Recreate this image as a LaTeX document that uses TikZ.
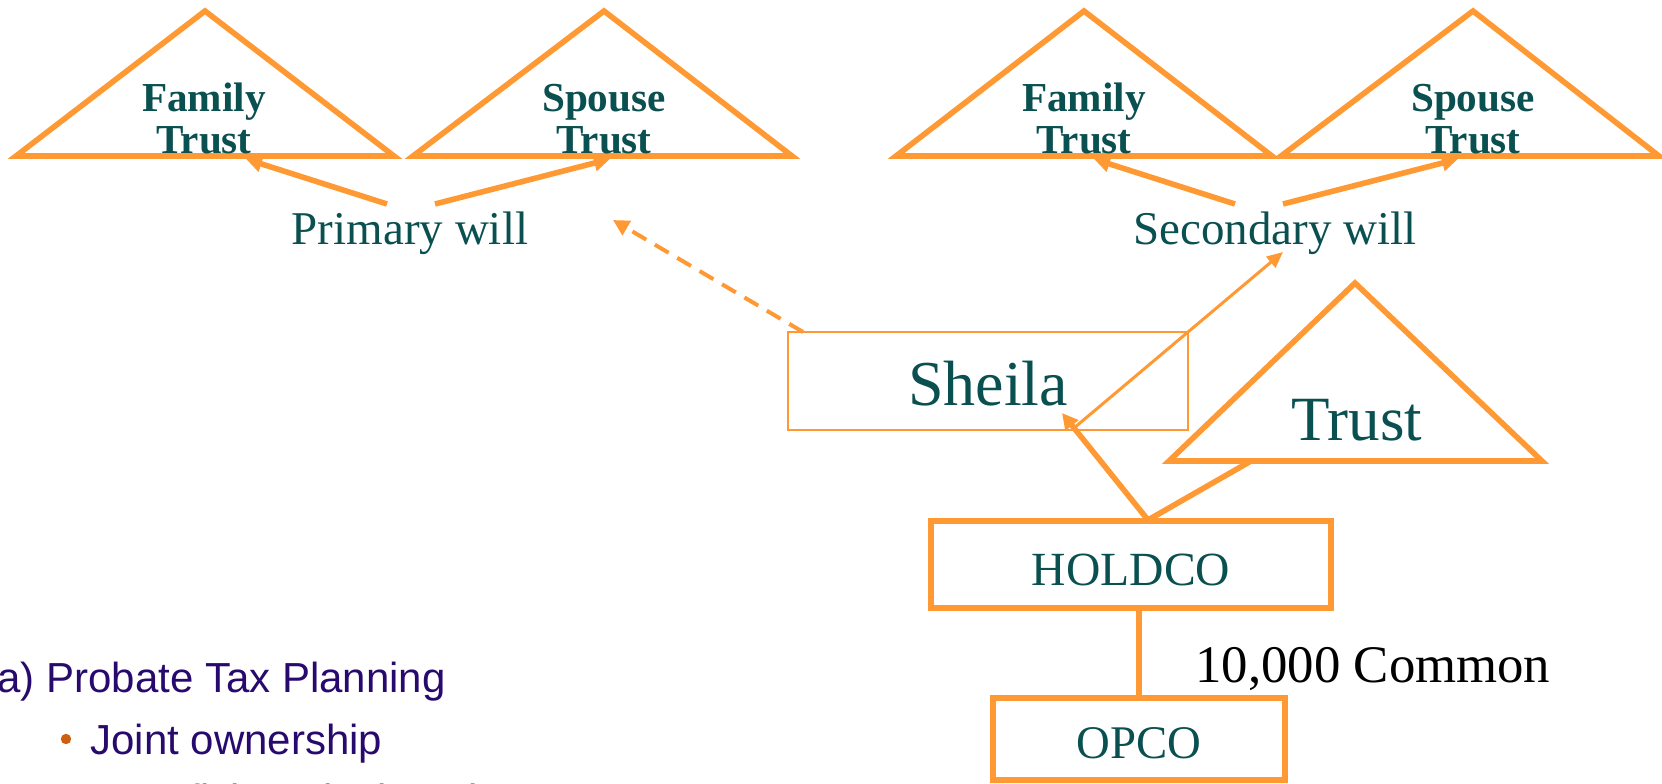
\documentclass[tikz,border=0pt]{standalone}
\usepackage{fontspec}
\setmainfont{Liberation Serif}
\newfontfamily\arialf{Liberation Sans}
\usetikzlibrary{arrows.meta}
\definecolor{org}{HTML}{FF9933}
\definecolor{tealtxt}{HTML}{0A5050}
\definecolor{purp}{HTML}{280A6E}
\definecolor{bul}{HTML}{CC6010}
\tikzset{
  tri/.style={draw=org, line width=2.8pt, line join=miter},
  thk/.style={draw=org, line width=2.8pt},
  tip/.style={-{Triangle[length=8pt,width=8pt]}},
  btxt/.style={inner sep=0pt, text=tealtxt, font=\bfseries\fontsize{20.6}{20.8}\selectfont, align=center, anchor=base},
  wtxt/.style={inner sep=0pt, text=tealtxt, font=\fontsize{23.5}{26}\selectfont, anchor=base},
  boxn/.style={draw=org, inner sep=0pt, text=tealtxt, anchor=base},
  left/.style={inner sep=0pt, text=purp, font=\arialf\fontsize{21}{24}\selectfont, anchor=base west}
}
\begin{document}
\begin{tikzpicture}[x=0.5pt,y=-0.5pt]
\useasboundingbox (0,0) rectangle (1662,783);
% top triangles
\draw[tri] (16,156) -- (205,11) -- (394,156) -- cycle;
\draw[tri] (413,156) -- (604,11) -- (792,156) -- cycle;
\draw[tri] (896,156) -- (1084,11) -- (1272,156) -- cycle;
\draw[tri] (1281,156) -- (1473,11) -- (1659,156) -- cycle;
\node[btxt] (ft1) at (204,153) {Family\\Trust};
\node[btxt] (st1) at (604,153) {Spouse\\Trust};
\node[btxt] (ft2) at (1084,153) {Family\\Trust};
\node[btxt] (st2) at (1473,153) {Spouse\\Trust};
% wills
\node[wtxt] (pw) at (410,244) {Primary will};
\node[wtxt] (sw) at (1275,244) {Secondary will};
\coordinate (pwl) at (387,204);
\coordinate (pwr) at (435,204);
\coordinate (swl) at (1235,204);
\coordinate (swr) at (1283,204);
\coordinate (ft1t) at (246,159);
\coordinate (st1t) at (610,159);
\coordinate (ft2t) at (1094,159);
\coordinate (st2t) at (1458,159);
\draw[thk,tip] (pwl) -- (ft1t);
\draw[thk,tip] (pwr) -- (st1t);
\draw[thk,tip] (swl) -- (ft2t);
\draw[thk,tip] (swr) -- (st2t);
% Sheila
\node[boxn, line width=1.2pt, minimum width=200pt, text height=36.5pt, text depth=12.5pt,
      font=\fontsize{32}{34}\selectfont] (sh) at (988,405) {Sheila};
\coordinate (shd) at (803,332);
\coordinate (pwd) at (613,220);
\draw[org, line width=2pt, dash pattern=on 8pt off 5pt, -{Triangle[length=8pt,width=8pt]}] (shd) -- (pwd);
% Trust
\draw[tri] (1169,461) -- (1355,283) -- (1542,461) -- cycle;
\node[inner sep=0pt, text=tealtxt, font=\fontsize{31.5}{33}\selectfont, anchor=base] (tr) at (1357,440) {Trust};
% HOLDCO
\node[boxn, line width=3pt, minimum width=200pt, text height=32pt, text depth=11.5pt,
      font=\fontsize{23.8}{26}\selectfont] (hc) at (1131,585) {HOLDCO};
\coordinate (hct) at (1148,520);
\coordinate (shb) at (1062,413);
\coordinate (trb) at (1251,461);
\coordinate (shs) at (1074,428);
\coordinate (swb) at (1283,252);
\draw[thk,tip] (hct) -- (shb);
\draw[thk] (hct) -- (trb);
\draw[org, line width=1.5pt, -{Triangle[length=8pt,width=7pt]}] (shs) -- (swb);
% OPCO
\node[boxn, line width=3pt, minimum width=146pt, text height=30pt, text depth=11pt,
      font=\fontsize{23.4}{26}\selectfont] (op) at (1139,758) {OPCO};
\draw[thk] (hc.south -| op.north) -- (op.north);
\node[inner sep=0pt, font=\fontsize{26.4}{28}\selectfont, anchor=base west] (cm) at (1195,682) {10,000 Common};
% left text
\node[left] (l1) at (-3,692) {a) Probate Tax Planning};
\fill[bul] (66,739) circle (2.6pt);
\node[left] (l2) at (90,754) {Joint ownership};
\node[left] (l3) at (90,814) {Beneficiary designations};
\end{tikzpicture}
\end{document}
